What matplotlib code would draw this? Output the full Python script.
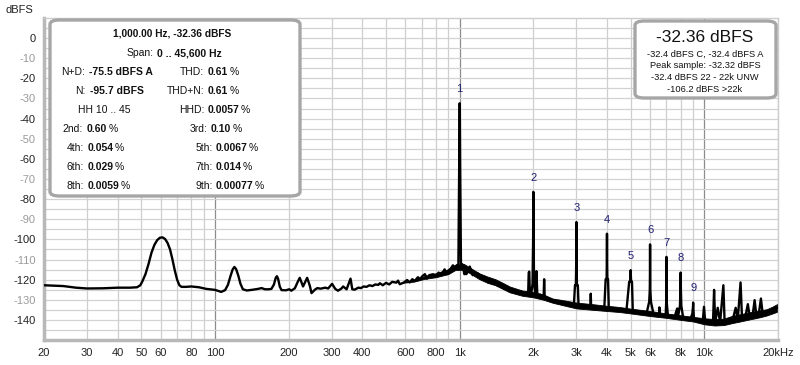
import matplotlib
matplotlib.use("Agg")
import matplotlib.pyplot as plt
from matplotlib.patches import FancyBboxPatch
from matplotlib.text import Annotation

plt.rcParams['font.family'] = ['Liberation Sans', 'DejaVu Sans']

# ---------------- data ----------------
freq_hz = [
    20, 24, 27, 30, 35, 40, 45, 48, 49.5, 50.5, 52, 53.5, 55, 56.5, 58, 59.5, 61, 62.5, 64,
    65.5, 67, 68.5, 70, 71.5, 73, 76, 80, 86, 92,
    100, 106, 110, 113, 115.5, 118, 120, 122, 124.5, 127, 130, 135, 143, 150, 155, 160, 166,
    170, 174, 177, 179, 181, 184, 187, 195,
    201, 205, 212, 218, 222, 229, 238, 244, 248, 256, 262, 270, 282, 290, 301, 310, 318, 328,
    334, 345, 352, 358, 364, 372, 385, 395, 405, 416, 428, 440, 452, 465, 472, 485, 500, 515,
    530, 551, 560, 569, 590, 610, 625, 640, 656, 675, 688, 705, 721, 735, 750, 779, 800, 820,
    840, 868, 885, 905, 920, 938, 955, 975, 988,
    996, 999, 1000, 1001, 1004,
    1012, 1026, 1031, 1045, 1055, 1064, 1080, 1100, 1113, 1130, 1150, 1170, 1190, 1205, 1230,
    1260, 1286, 1310, 1330, 1360, 1390, 1434, 1470, 1500, 1547, 1580, 1620, 1660, 1700, 1740,
    1780, 1820, 1860, 1905, 1915, 1925, 1935, 1960, 1985,
    1996, 2000, 2004,
    2015, 2040, 2060, 2075, 2100, 2130, 2170, 2205, 2214, 2225, 2260, 2300, 2350, 2393, 2440,
    2500, 2560, 2620, 2711, 2780, 2850, 2930, 2960, 2985,
    2996, 3000, 3004,
    3015, 3040, 3060, 3120, 3200, 3291, 3380, 3425, 3434, 3445, 3530, 3620, 3728, 3820, 3900,
    3950, 3985,
    3996, 4000, 4004,
    4015, 4040, 4070, 4200, 4350, 4509, 4650, 4800, 4930, 4980,
    4994, 5000, 5006,
    5020, 5060, 5100, 5250, 5451, 5600, 5800, 5950, 5985,
    5996, 6000, 6004,
    6015, 6050, 6200, 6400, 6530, 6550, 6570, 6750, 6950, 6985,
    6996, 7000, 7004,
    7015, 7100, 7300, 7550, 7740, 7760, 7800, 7950,
    7994, 8000, 8006,
    8050, 8200, 8500, 8750, 8930,
    8994, 9000, 9006,
    9070, 9300, 9624, 9850, 9965, 10080, 10400, 10850, 10960, 11070, 11340, 11600, 11960,
    12100, 12500, 13070, 13430, 13700, 14060, 14250, 14700, 15060, 15300, 15750, 16050,
    16300, 16700, 17030, 17300, 17840, 18300, 18800, 19300, 19600, 20000,
]
level_dbfs = [
    -122.8, -123.2, -124.0, -124.4, -124.3, -124.0, -124.0, -123.8, -122.8, -120.8, -117.2,
    -112.2, -106.6, -102.8, -100.4, -99.2, -99.0, -99.8, -101.8,
    -105.0, -110.0, -115.5, -120.0, -122.8, -123.6, -123.6, -123.4, -123.8, -124.6,
    -125.1, -126.1, -125.2, -122.5, -118.5, -115.0, -113.7, -114.8, -118.0, -122.0, -124.8,
    -125.4, -125.0, -124.6, -124.2, -124.8, -124.8,
    -124.6, -122.5, -119.2, -118.3, -119.5, -123.5, -125.2, -125.3,
    -124.8, -125.5, -124.3, -121.0, -119.1, -123.4, -119.1, -123.0, -126.7, -125.0, -124.2,
    -124.5, -124.0, -124.4, -122.1, -124.6, -125.5, -124.5,
    -123.4, -124.8, -122.0, -119.5, -124.8, -125.0, -124.0, -124.2, -123.4, -123.6, -122.8,
    -123.2, -122.4, -122.6, -121.8, -122.8, -121.6, -122.4,
    -121.1, -121.5, -120.5, -122.3, -121.5, -120.2, -121.4, -119.8, -120.6, -118.8, -119.8,
    -118.2, -117.3, -119.5, -117.8, -117.3, -118.2, -116.5,
    -117.6, -114.9, -117.3, -115.2, -114.5, -112.9, -114.0, -112.8, -112.5,
    -60.0, -34.0, -32.36, -34.0, -60.0,
    -112.4, -112.4, -113.7, -117.3, -114.5, -117.3, -116.0, -113.5, -115.7, -117.8, -116.4,
    -118.0, -117.0, -117.8, -119.4,
    -118.6, -119.8, -121.4, -120.4, -122.0, -121.3, -123.1, -122.3, -124.0, -124.8, -124.0,
    -125.8, -125.0, -125.6, -126.5,
    -125.8, -127.0, -126.4, -127.2, -116.5, -116.0, -126.8, -127.5, -122.0,
    -100.0, -76.4, -100.0,
    -122.0, -127.6, -115.8, -126.8, -128.0, -127.4, -128.4, -127.8, -119.8, -128.2, -129.2,
    -129.4, -129.9, -130.6, -130.2,
    -131.0, -130.6, -131.5, -131.4, -132.0, -131.6, -132.4, -122.8, -122.8,
    -110.0, -91.4, -110.0,
    -122.8, -122.8, -132.6, -133.2, -132.8, -133.6, -133.2, -133.8, -127.0, -134.0, -133.6,
    -134.4, -134.0, -134.6, -134.2,
    -119.8, -119.8,
    -110.0, -97.2, -110.0,
    -119.8, -119.8, -134.6, -135.0, -134.6, -135.4, -135.0, -135.8, -121.0, -121.0,
    -118.0, -115.3, -118.0,
    -121.0, -121.0, -135.8, -136.4, -136.2, -136.8, -137.0, -131.0, -125.0,
    -115.0, -102.5, -115.0,
    -125.0, -131.0, -137.2, -137.6, -137.4, -133.8, -137.8, -138.0, -137.8, -131.0,
    -118.0, -108.7, -118.0,
    -131.0, -138.4, -138.0, -138.8, -134.4, -134.4, -138.6, -133.0,
    -122.0, -116.5, -122.0,
    -133.0, -139.2, -139.4, -139.8, -137.0,
    -133.0, -131.4, -133.0,
    -139.6, -140.2, -140.6, -141.0, -133.5, -141.0, -141.4, -141.2, -125.1, -141.4, -134.0,
    -141.2, -122.8,
    -141.0, -140.6, -139.8, -134.0, -139.6, -121.4, -138.8, -138.6, -132.2, -138.0, -137.8,
    -130.2,
    -137.4, -137.0, -129.4, -136.6, -136.2, -135.8, -135.2, -134.6, -134.2, -133.8,
]

# min / max envelope of the dense noise floor (the thick band)
band_freq = [580, 650, 720, 800, 900, 960, 1040, 1100, 1200, 1300, 1400, 1500, 1600,
             1800, 2000, 2200, 2400, 2700, 3000, 3500, 4000, 4500, 5000, 6000, 7000, 8000,
             9000, 10000, 11000, 12000, 13000, 14000, 15000, 16000, 17000, 18000, 19000, 20000]
band_low = [-121.6, -121.0, -119.6, -118.8, -117.2, -115.2, -115.1, -116.8, -119.7,
            -121.6, -122.8, -124.6, -126.3, -128.0, -128.8, -130.0, -131.5, -133.0, -134.3,
            -135.0, -135.6, -136.1, -136.8, -138.1, -139.0, -140.0, -140.8, -142.2, -142.8,
            -142.6, -141.6, -140.8, -140.0, -139.3, -138.6, -137.8, -136.8, -135.8]
band_high = [-121.4, -120.2, -118.2, -116.8, -114.8, -112.6, -112.2, -114.0, -116.8,
             -118.5, -119.8, -121.6, -123.4, -125.4, -126.2, -127.4, -129.4, -130.4, -131.4,
             -132.2, -133.0, -133.6, -134.4, -135.6, -136.8, -137.7, -138.5, -139.2, -139.6,
             -139.4, -138.0, -137.2, -136.4, -135.8, -135.2, -134.7, -133.4, -131.9]

harmonic_freqs = [1000, 2000, 3000, 4000, 5000, 6000, 7000, 8000, 9000]
harmonic_levels = [-32.36, -76.4, -91.4, -97.2, -115.3, -102.5, -108.7, -116.5, -131.4]
harmonic_labels = ['1', '2', '3', '4', '5', '6', '7', '8', '9']

x_ticks = [20, 30, 40, 50, 60, 80, 100, 200, 300, 400, 600, 800, 1000,
           2000, 3000, 4000, 5000, 6000, 8000, 10000, 20000]
x_tick_labels = ['20', '30', '40', '50', '60', '80', '100', '200', '300', '400', '600',
                 '800', '1k', '2k', '3k', '4k', '5k', '6k', '8k', '10k', '20kHz']
y_ticks = [0, -10, -20, -30, -40, -50, -60, -70, -80, -90, -100, -110, -120, -130, -140]

title_line = "1,000.00 Hz, -32.36 dBFS"
span_label, span_value = "Span:", "0 .. 45,600 Hz"
left_rows = [("N+D:", "-75.5 dBFS A", ""), ("N:", "-95.7 dBFS", ""), None,
             ("2nd:", "0.60", "%"), ("4th:", "0.054", "%"), ("6th:", "0.029", "%"),
             ("8th:", "0.0059", "%")]
hh_text = "HH 10 .. 45"
right_rows = [("THD:", "0.61", "%"), ("THD+N:", "0.61", "%"), ("HHD:", "0.0057", "%"),
              ("3rd:", "0.10", "%"), ("5th:", "0.0067", "%"), ("7th:", "0.014", "%"),
              ("9th:", "0.00077", "%")]
level_big = "-32.36 dBFS"
level_lines = ["-32.4 dBFS C, -32.4 dBFS A", "Peak sample: -32.32 dBFS",
               "-32.4 dBFS 22 - 22k UNW", "-106.2 dBFS >22k"]

# ---------------- figure ----------------
W, H = 800, 365
fig = plt.figure(figsize=(W / 100, H / 100), dpi=100)
fig.patch.set_facecolor('white')

def fx(x):
    return x / W

def fy(y):
    return 1 - y / H

L, R, T, B = 44, 778, 18, 340
ax = fig.add_axes([fx(L), fy(B), fx(R - L), (B - T) / H])
ax.set_xscale('log')
ax.set_xlim(20, 20000)
ax.set_ylim(-150, 10)

# grid
grid_v = []
for dec in (10, 100, 1000, 10000):
    for m in range(1, 10):
        v = dec * m
        if 20 <= v <= 20000:
            grid_v.append(v)
for v in grid_v:
    if v in (100, 1000, 10000):
        ax.axvline(v, color='#8c8c8c', lw=0.9, zorder=1)
    else:
        ax.axvline(v, color='#cfcfcf', lw=0.9, zorder=1)
for h in range(-145, 10, 5):
    ax.axhline(h, color='#d2d2d2', lw=0.9, zorder=1)

ax.fill_between(band_freq, band_low, band_high, color='black', lw=0.6, zorder=2)
ax.plot(freq_hz, level_dbfs, color='black', lw=1.7, zorder=3, solid_joinstyle='round')

for f, lv, lab in zip(harmonic_freqs, harmonic_levels, harmonic_labels):
    ax.text(f, lv + 7, lab, color='#1f1f70', fontsize=8, ha='center', va='center', zorder=4)

ax.set_xticks(x_ticks)
ax.set_xticklabels(x_tick_labels)
ax.xaxis.set_minor_locator(matplotlib.ticker.NullLocator())
ax.set_yticks(y_ticks)
ax.set_yticklabels([str(v) for v in y_ticks])
ax.tick_params(axis='both', length=0, labelsize=8, colors='#222222')
ax.tick_params(axis='x', pad=6)
ax.tick_params(axis='y', pad=6)
for i, lab in enumerate(ax.get_yticklabels()):
    lab.set_color('#222222' if i % 2 == 0 else '#9a9a9a')

for s in ('left', 'bottom'):
    ax.spines[s].set_color('#b8b8b8')
    ax.spines[s].set_linewidth(2.5)
for s in ('top', 'right'):
    ax.spines[s].set_color('#cccccc')
    ax.spines[s].set_linewidth(1.0)

fig.text(fx(5), fy(10), "dBFS", fontsize=8, ha='left', va='center', color='#222222')

# ---------------- left info box ----------------
def rbox(x0, y0, x1, y1):
    p = FancyBboxPatch((fx(x0), fy(y1)), fx(x1 - x0), (y1 - y0) / H,
                       boxstyle="round,pad=0,rounding_size=0.012",
                       transform=fig.transFigure, facecolor='white',
                       edgecolor='#a6a6a6', linewidth=2.4, zorder=5)
    fig.add_artist(p)

rbox(50, 20, 300, 196)
fs = 7.5
fig.text(fx(172), fy(34), title_line, fontsize=7.3, fontweight='bold', ha='center',
         va='center', color='#111111', zorder=6)
fig.text(fx(154), fy(53), span_label, fontsize=fs, ha='right', va='center',
         color='#111111', zorder=6)
fig.text(fx(157), fy(53), span_value, fontsize=fs, fontweight='bold', ha='left',
         va='center', color='#111111', zorder=6)

row_y = [72, 91, 110, 129, 148, 167, 186]

def row(xl, xv, y, label, value, suffix):
    fig.text(fx(xl), fy(y), label, fontsize=fs, ha='right', va='center',
             color='#111111', zorder=6)
    t = fig.text(fx(xv), fy(y), value, fontsize=fs, fontweight='bold', ha='left',
                 va='center', color='#111111', zorder=6)
    if suffix:
        fig.add_artist(Annotation(
            suffix, xy=(1, 0.5), xycoords=t, xytext=(0.8, 0), textcoords='offset points',
            fontsize=fs, ha='left', va='center', color='#111111', zorder=6))

left_x = [(85, 89), (86, 90), None, (83, 87), (84, 88), (84, 88), (84, 88)]
for y, r, xs in zip(row_y, left_rows, left_x):
    if r is None:
        fig.text(fx(104), fy(y), hh_text, fontsize=fs, ha='center', va='center',
                 color='#111111', zorder=6)
    else:
        row(xs[0], xs[1], y, *r)

right_x = [(204, 208), (204, 208), (204, 208), (208, 211), (213, 216), (213, 216), (213, 216)]
for y, r, xs in zip(row_y, right_rows, right_x):
    row(xs[0], xs[1], y, *r)

# ---------------- right level box ----------------
rbox(635, 21, 776, 98)
fig.text(fx(705), fy(38), level_big, fontsize=12.5, ha='center', va='center',
         color='#111111', zorder=6)
for y, s in zip([54.5, 66, 77.5, 89], level_lines):
    fig.text(fx(705), fy(y), s, fontsize=6.7, ha='center', va='center',
             color='#111111', zorder=6)

fig.savefig("out.png", dpi=100, facecolor='white')
